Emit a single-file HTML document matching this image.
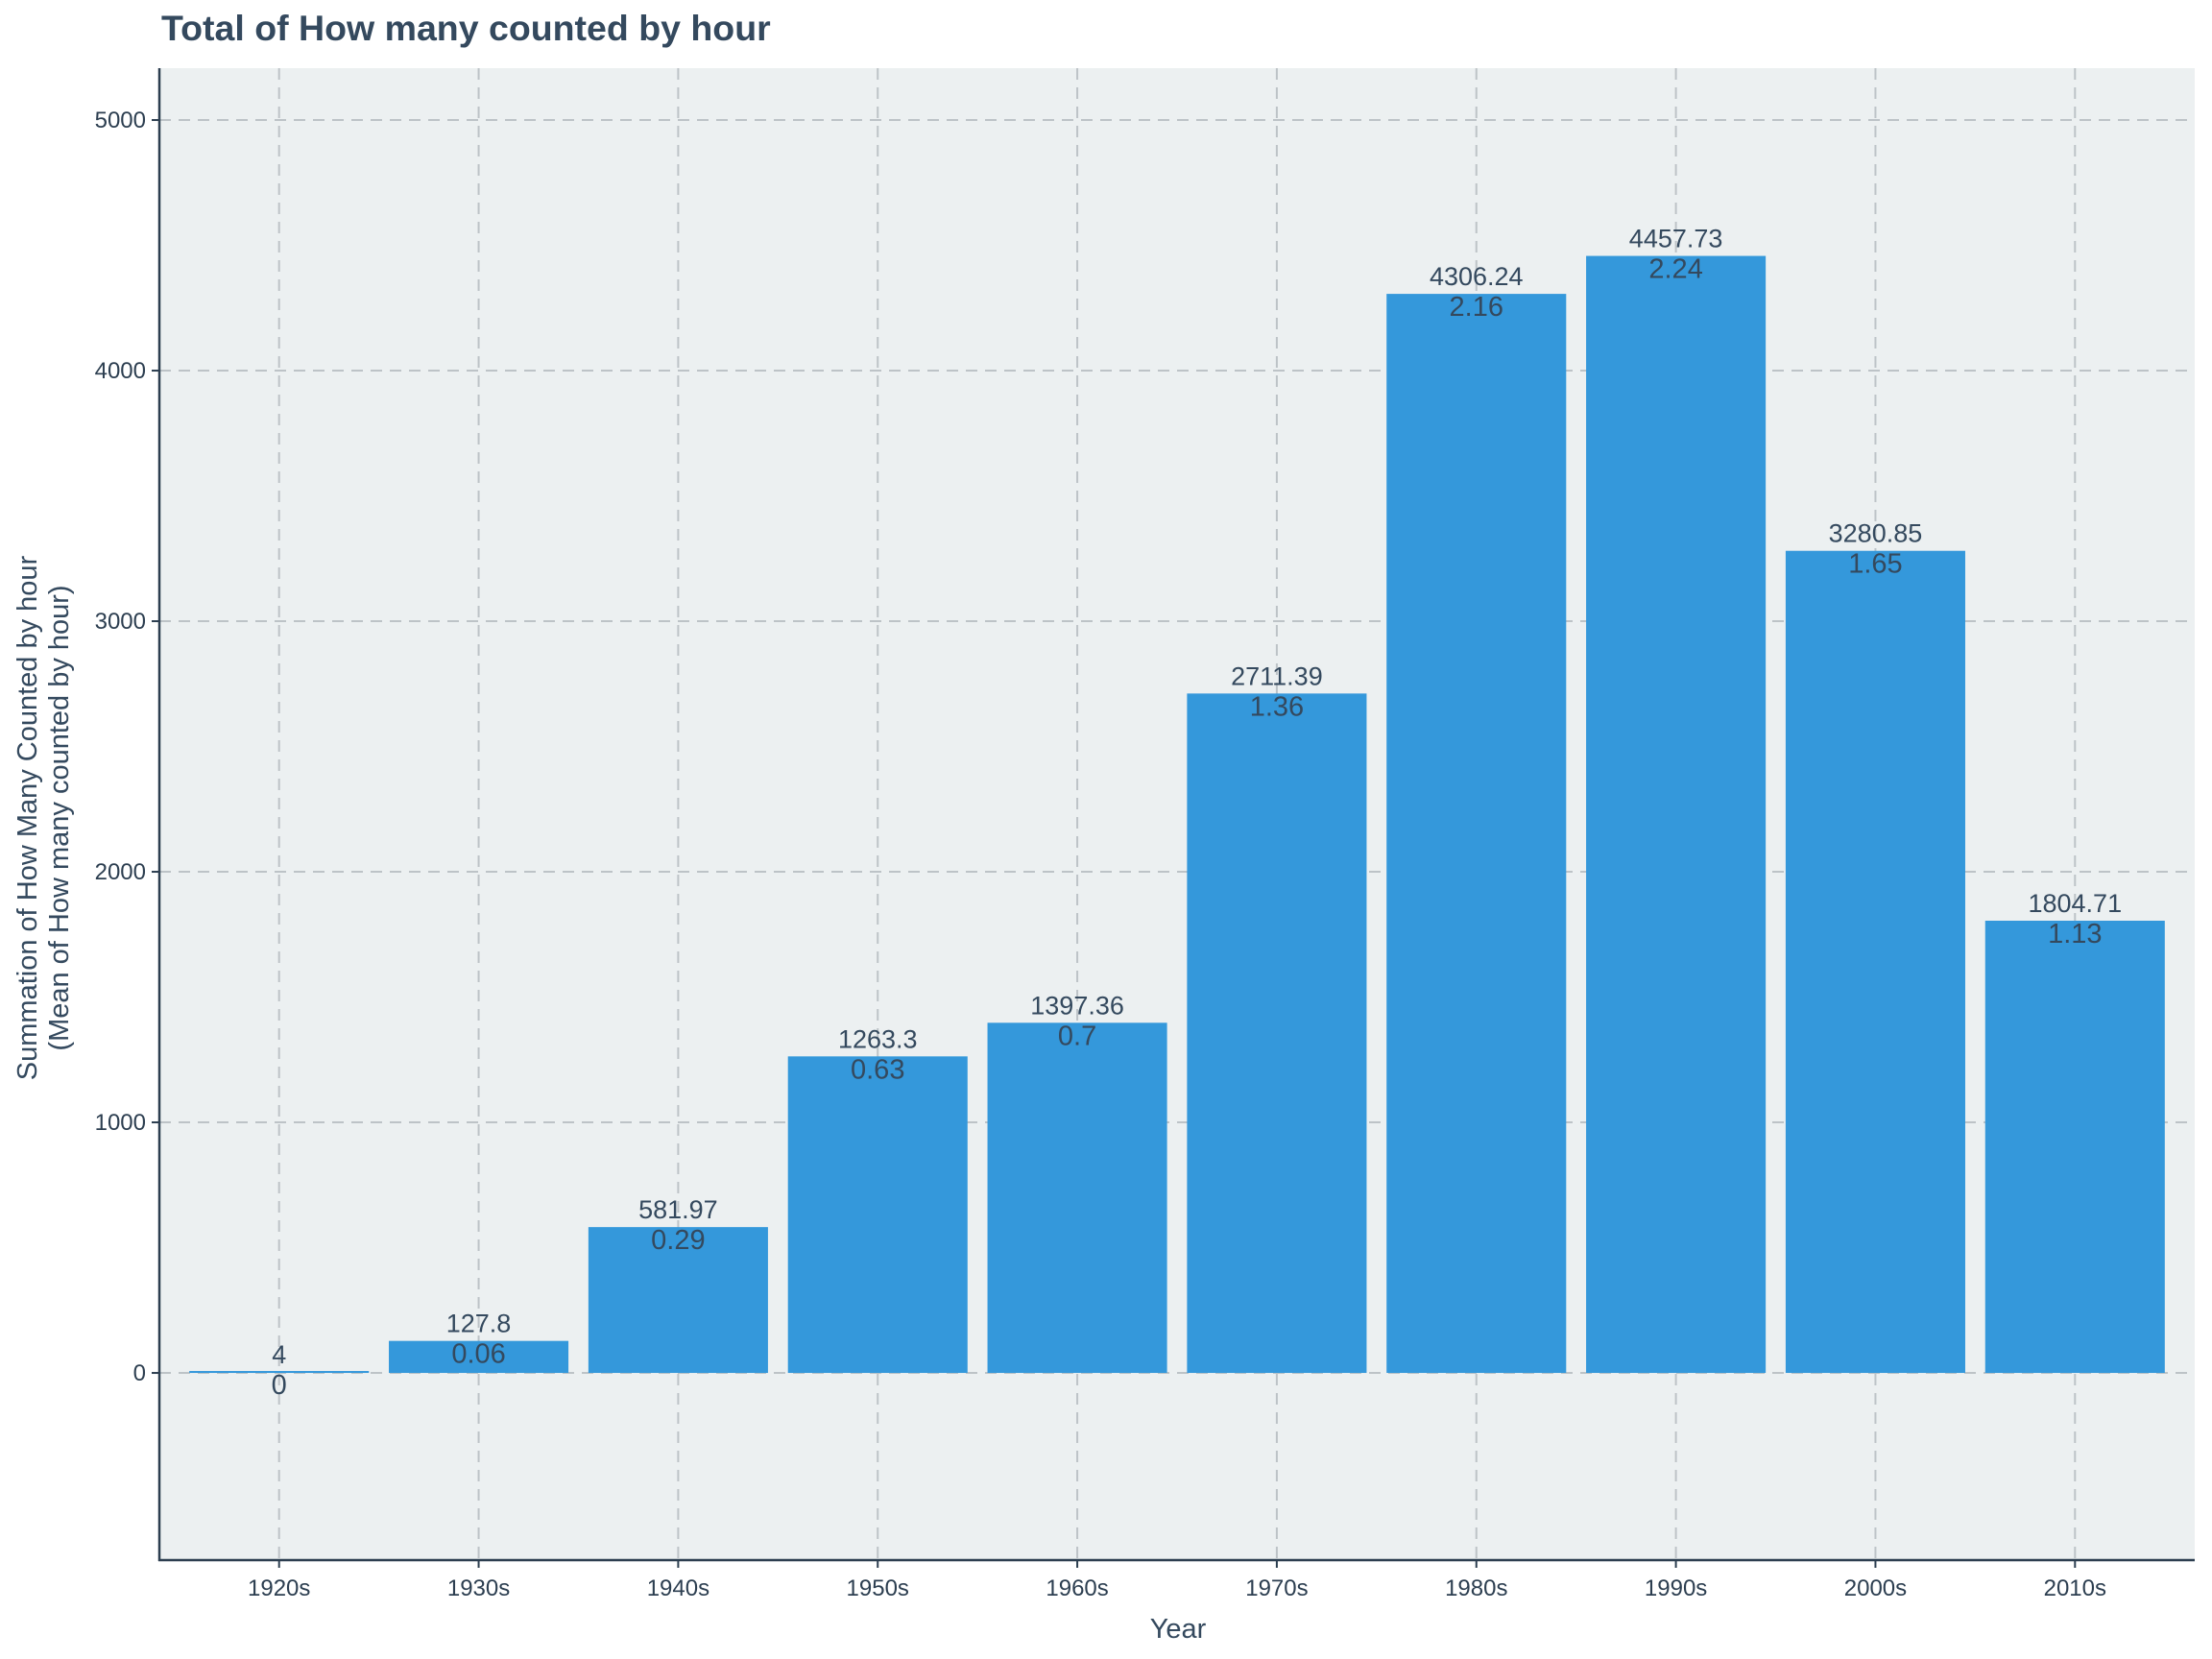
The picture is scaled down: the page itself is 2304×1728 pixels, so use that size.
<!DOCTYPE html>
<html><head><meta charset="utf-8"><style>
body{margin:0;background:#fff;}
svg{display:block;font-family:"Liberation Sans",Arial,sans-serif;}
</style></head><body>
<svg id="chart" width="2304" height="1728" viewBox="0 0 2304 1728">
<text x="168" y="42" font-size="37.5" font-weight="bold" fill="#34495e">Total of How many counted by hour</text>
<rect x="166" y="71" width="2120" height="1554" fill="#ecf0f1"/>
<g id="grid"></g>
<g id="bars"></g>
<g id="labels"></g>
<g id="axes"></g>
<text x="1227" y="1706" font-size="29" text-anchor="middle" fill="#34495e">Year</text>
<text transform="translate(38,852) rotate(-90)" font-size="29" text-anchor="middle" fill="#34495e">Summation of How Many Counted by hour</text>
<text transform="translate(71,852) rotate(-90)" font-size="29" text-anchor="middle" fill="#34495e">(Mean of How many counted by hour)</text>
</svg>
<script>
const categories = ["1920s","1930s","1940s","1950s","1960s","1970s","1980s","1990s","2000s","2010s"];
const sums = [4, 127.8, 581.97, 1263.3, 1397.36, 2711.39, 4306.24, 4457.73, 3280.85, 1804.71];
const means = [0, 0.06, 0.29, 0.63, 0.7, 1.36, 2.16, 2.24, 1.65, 1.13];
const yTicks = [0, 1000, 2000, 3000, 4000, 5000];

const NS = "http://www.w3.org/2000/svg";
const plotL = 166, plotR = 2286, plotT = 71, plotB = 1625;
const yMin = -747, yMax = 5207;
function y(v){ return plotB - (v - yMin) / (yMax - yMin) * (plotB - plotT); }
const step = (plotR - plotL) / (categories.length + 0.2);
function x(i){ return plotL + step * (0.6 + i); }
const bw = step * 0.9;
function mk(tag, attrs, parent){
  const e = document.createElementNS(NS, tag);
  for (const k in attrs) e.setAttribute(k, attrs[k]);
  parent.appendChild(e); return e;
}
const grid = document.getElementById("grid"), bars = document.getElementById("bars"),
      labels = document.getElementById("labels"), axes = document.getElementById("axes");
yTicks.forEach(t => {
  const l = mk("line", {x1: plotL, x2: plotR, y1: y(t), y2: y(t), stroke: "#bdc3c7", "stroke-width": 2, "stroke-dasharray": "12 8"}, grid);
  
  
  const tk = mk("line", {x1: plotL - 8, x2: plotL, y1: y(t), y2: y(t), stroke: "#2c3e50", "stroke-width": 2}, axes);
  
  
  const tx = mk("text", {x: plotL - 14, y: y(t) + 8, "font-size": 24, "text-anchor": "end", fill: "#2c3e50"}, axes);
  tx.textContent = t;
  
  
});
categories.forEach((c, i) => {
  const cx = x(i);
  const g = mk("line", {x1: cx, x2: cx, y1: plotT, y2: plotB, stroke: "#bdc3c7", "stroke-width": 2, "stroke-dasharray": "12 8"}, grid);
  
  
  const top = y(sums[i]), h = Math.max(y(0) - top, 2);
  const b = mk("rect", {x: cx - bw / 2, y: y(0) - h, width: bw, height: h, fill: "#3498db"}, bars);
  
  
  const s = mk("text", {x: cx, y: top - 9, "font-size": 27, "text-anchor": "middle", fill: "#34495e"}, labels);
  s.textContent = sums[i];
  
  
  const m = mk("text", {x: cx, y: top + 23, "font-size": 29, "text-anchor": "middle", fill: "#34495e"}, labels);
  m.textContent = means[i];
  
  
  const tk = mk("line", {x1: cx, x2: cx, y1: plotB, y2: plotB + 8, stroke: "#2c3e50", "stroke-width": 2}, axes);
  
  
  const tl = mk("text", {x: cx, y: plotB + 37, "font-size": 24, "text-anchor": "middle", fill: "#2c3e50"}, axes);
  tl.textContent = c;
  
  
});
const ya = mk("line", {x1: plotL, x2: plotL, y1: plotT, y2: plotB + 1, stroke: "#2c3e50", "stroke-width": 2.5}, axes);


const xa = mk("line", {x1: plotL - 1, x2: plotR, y1: plotB, y2: plotB, stroke: "#2c3e50", "stroke-width": 2.5}, axes);


</script>
</body></html>
